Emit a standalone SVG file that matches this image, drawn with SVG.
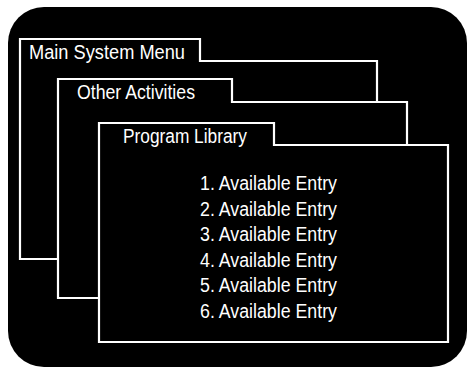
<svg xmlns="http://www.w3.org/2000/svg" width="472" height="369" viewBox="0 0 472 369">
<style>
.win{fill:#000;stroke:#fff;stroke-width:2.2;stroke-linejoin:miter}
.t{font-family:"Liberation Sans",Arial,sans-serif;fill:#fff;font-size:20px}
</style>
<rect x="0" y="0" width="472" height="369" fill="#fff"/>
<rect id="screen" x="8" y="7" width="459" height="360" rx="36" ry="36" fill="#000"/>
<g id="main-system-menu">
<path class="win" d="M20,39 H200 V61 H377 V259 H20 Z"/>
<text class="t" x="29" y="59" textLength="156" lengthAdjust="spacingAndGlyphs">Main System Menu</text>
</g>
<g id="other-activities">
<path class="win" d="M58,79 H232 V102 H407 V298 H58 Z"/>
<text class="t" x="77" y="99" textLength="118" lengthAdjust="spacingAndGlyphs">Other Activities</text>
</g>
<g id="program-library">
<path class="win" d="M99,123 H274 V145 H448 V342 H99 Z"/>
<text class="t" x="123" y="143" textLength="124" lengthAdjust="spacingAndGlyphs">Program Library</text>
<text class="t" x="200" y="190" textLength="137" lengthAdjust="spacingAndGlyphs">1. Available Entry</text>
<text class="t" x="200" y="215.5" textLength="137" lengthAdjust="spacingAndGlyphs">2. Available Entry</text>
<text class="t" x="200" y="241" textLength="137" lengthAdjust="spacingAndGlyphs">3. Available Entry</text>
<text class="t" x="200" y="266.5" textLength="137" lengthAdjust="spacingAndGlyphs">4. Available Entry</text>
<text class="t" x="200" y="292" textLength="137" lengthAdjust="spacingAndGlyphs">5. Available Entry</text>
<text class="t" x="200" y="317.5" textLength="137" lengthAdjust="spacingAndGlyphs">6. Available Entry</text>
</g>
<g id="connectors"></g>
</svg>
